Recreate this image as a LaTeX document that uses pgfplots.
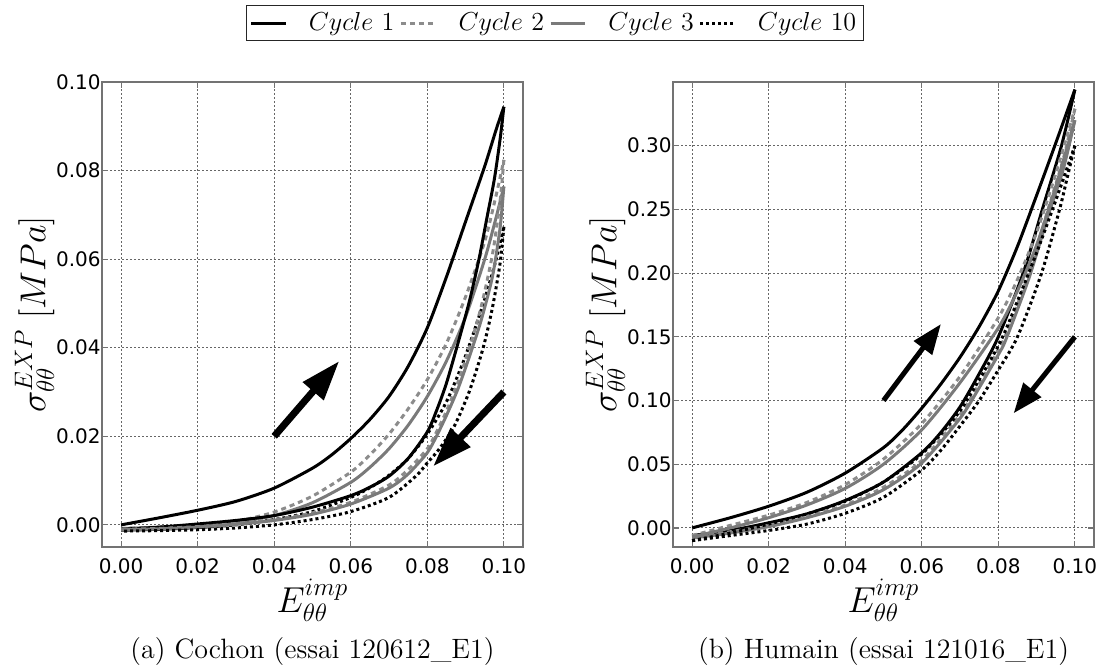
\RequirePackage{fix-cm}
\documentclass[border=0pt]{standalone}
\usepackage{fontspec}
\usepackage{pgfplots}
\pgfplotsset{compat=1.18}
\usetikzlibrary{arrows.meta}
\newfontfamily\dejavu{DejaVu Sans}

\pgfplotsset{
  cyc1/.style={black, line width=1.5pt, smooth, tension=0.45},
  cyc2/.style={black!45, line width=1.5pt, dash pattern=on 2.5pt off 2pt, smooth, tension=0.45},
  cyc3/.style={black!52, line width=1.5pt, smooth, tension=0.45},
  cyc10/.style={black, line width=1.5pt, dash pattern=on 1.5pt off 1.5pt, smooth, tension=0.45},
  myaxis/.style={
    width=210.5pt, height=232.5pt, scale only axis,
    xmin=-0.005, xmax=0.105,
    xtick={0,0.02,0.04,0.06,0.08,0.1},
    grid=major,
    major grid style={black!60, line width=0.5pt, dash pattern=on 1pt off 1pt},
    axis line style={black!55, line width=1pt},
    tick style={black!55, line width=0.6pt},
    tick align=inside, major tick length=3pt,
    ticklabel style={font=\dejavu\fontsize{10}{12}\selectfont},
    yticklabel style={inner xsep=0.5pt},
    xticklabel style={inner ysep=5.5pt},
    label style={font=\fontsize{18}{21}\selectfont},
    xlabel={$E_{\theta\theta}^{imp}$},
    ylabel={$\sigma_{\theta\theta}^{EXP}\ [MPa]$},
    xlabel style={at={(axis description cs:0.5,-0.114)}, anchor=center},
    ylabel style={at={(axis description cs:-0.16,0.5)}, anchor=center},
    /pgf/number format/fixed,
    /pgf/number format/fixed zerofill,
    /pgf/number format/precision=2,
    /pgf/number format/assume math mode=true,
  },
}

\begin{document}
\begin{tikzpicture}
\useasboundingbox (0,0) rectangle (553pt,-334pt);

% ---------------- Left: Cochon ----------------
\begin{axis}[myaxis,
  at={(51pt,-41pt)}, anchor=north west,
  ymin=-0.005, ymax=0.1,
  ytick={0,0.02,0.04,0.06,0.08,0.1},
  legend columns=4,
  legend style={at={(axis description cs:1.076,1.1656)}, anchor=north,
    draw=black!85, line width=0.6pt, fill=white,
    font=\fontsize{13}{15}\selectfont, inner sep=1.5pt,
    /tikz/every odd column/.append style={column sep=9pt},
    /tikz/every even column/.append style={column sep=0.5pt}},
]
% Cycle 1
\addplot[cyc1] coordinates {
(0,0) (0.01,0.0016) (0.02,0.0033) (0.03,0.0053) (0.04,0.0083) (0.05,0.0128)
(0.055,0.0158) (0.06,0.0195) (0.065,0.0238) (0.07,0.0290) (0.075,0.0358)
(0.08,0.0445) (0.085,0.0560) (0.09,0.0685) (0.095,0.0810) (0.098,0.0893)
(0.1,0.0944)
};
\addlegendentry{$Cycle\ 1$}
\addplot[cyc2] coordinates {
(0,-0.0008) (0.01,-0.0005) (0.02,0.0000) (0.03,0.0008) (0.04,0.0029)
(0.05,0.0065) (0.06,0.0119) (0.065,0.0158) (0.07,0.0205) (0.075,0.0262)
(0.08,0.0328) (0.085,0.0410) (0.09,0.0515) (0.095,0.0640) (0.098,0.0745)
(0.1,0.0824)
};
\addlegendentry{$Cycle\ 2$}
\addplot[cyc3] coordinates {
(0,-0.0008) (0.01,-0.0006) (0.02,-0.0002) (0.03,0.0006) (0.04,0.0021)
(0.05,0.0050) (0.06,0.0096) (0.065,0.0130) (0.07,0.0172) (0.075,0.0225)
(0.08,0.0290) (0.085,0.0370) (0.09,0.0470) (0.095,0.0600) (0.098,0.0695)
(0.1,0.0764)
};
\addlegendentry{$Cycle\ 3$}
\addplot[cyc10] coordinates {
(0,-0.0012) (0.01,-0.0010) (0.02,-0.0006) (0.03,0.0000) (0.04,0.0012)
(0.05,0.0030) (0.06,0.0062) (0.065,0.0084) (0.07,0.0112) (0.075,0.0150)
(0.08,0.0205) (0.085,0.0278) (0.09,0.0382) (0.095,0.0510) (0.098,0.0600)
(0.1,0.0673)
};
\addlegendentry{$Cycle\ 10$}
% unloading branches
\addplot[cyc1, forget plot] coordinates {
(0.1,0.0944) (0.099,0.0870) (0.0975,0.0780) (0.0955,0.0690) (0.0935,0.0600)
(0.091,0.0505) (0.088,0.0410) (0.085,0.0320) (0.0825,0.0260) (0.08,0.0210)
(0.075,0.0150) (0.07,0.0110) (0.065,0.0085) (0.06,0.0066) (0.05,0.0040)
(0.04,0.0021) (0.03,0.0010) (0.02,0.0002) (0.01,-0.0005) (0,-0.0010)
};
\addplot[cyc2, forget plot] coordinates {
(0.1,0.0824) (0.099,0.0730) (0.097,0.0610) (0.094,0.0490) (0.091,0.0400)
(0.088,0.0322) (0.085,0.0257) (0.082,0.0203) (0.08,0.0172) (0.075,0.0125)
(0.07,0.0090) (0.06,0.0051) (0.05,0.0027) (0.04,0.0012) (0.03,0.0003)
(0.02,-0.0004) (0.01,-0.0008) (0,-0.0010)
};
\addplot[cyc3, forget plot] coordinates {
(0.1,0.0764) (0.099,0.0670) (0.097,0.0560) (0.094,0.0460) (0.091,0.0380)
(0.088,0.0307) (0.085,0.0247) (0.0825,0.0202) (0.08,0.0163) (0.075,0.0115)
(0.07,0.0083) (0.06,0.0047) (0.05,0.0024) (0.04,0.0010) (0.03,0.0001)
(0.02,-0.0005) (0.01,-0.0009) (0,-0.0011)
};
\addplot[cyc10, forget plot] coordinates {
(0.1,0.0673) (0.099,0.0590) (0.097,0.0490) (0.0946,0.0400) (0.091,0.0302)
(0.087,0.0222) (0.083,0.0170) (0.08,0.0140) (0.077,0.0110) (0.07,0.0062)
(0.06,0.0030) (0.05,0.0012) (0.04,0.0000) (0.03,-0.0007) (0.02,-0.0011)
(0.01,-0.0013) (0,-0.0014)
};
\draw[line width=3.5pt, -{Triangle[length=20pt,width=13pt]}]
  (axis cs:0.04,0.02) -- (axis cs:0.057,0.037);
\draw[line width=3.5pt, -{Triangle[length=20pt,width=13pt]}]
  (axis cs:0.1,0.03) -- (axis cs:0.0815,0.0132);
\end{axis}

% ---------------- Right: Humain ----------------
\begin{axis}[myaxis,
  at={(336.5pt,-41pt)}, anchor=north west,
  ymin=-0.015, ymax=0.35,
  ytick={0,0.05,0.1,0.15,0.2,0.25,0.3},
]
\addplot[cyc1] coordinates {
(0,0) (0.01,0.008) (0.02,0.017) (0.03,0.028) (0.04,0.043) (0.05,0.063)
(0.055,0.077) (0.06,0.094) (0.065,0.113) (0.07,0.134) (0.075,0.158)
(0.08,0.186) (0.085,0.221) (0.09,0.261) (0.095,0.302) (0.1,0.344)
};
\addplot[cyc1] coordinates {
(0.1,0.344) (0.0965,0.300) (0.0915,0.250) (0.0865,0.200) (0.08,0.150)
(0.075,0.121) (0.07,0.095) (0.065,0.075) (0.06,0.059) (0.05,0.036)
(0.04,0.0215) (0.03,0.011) (0.02,0.004) (0.01,-0.002) (0,-0.006)
};
\addplot[cyc2] coordinates {
(0,-0.006) (0.01,0.002) (0.02,0.010) (0.03,0.020) (0.04,0.034) (0.05,0.054)
(0.06,0.082) (0.07,0.119) (0.08,0.165) (0.085,0.195) (0.09,0.232)
(0.095,0.278) (0.1,0.329)
};
\addplot[cyc2] coordinates {
(0.1,0.329) (0.097,0.290) (0.093,0.250) (0.088,0.200) (0.082,0.152)
(0.08,0.140) (0.075,0.113) (0.07,0.089) (0.06,0.053) (0.05,0.032)
(0.04,0.018) (0.03,0.009) (0.02,0.002) (0.01,-0.003) (0,-0.007)
};
\addplot[cyc3] coordinates {
(0,-0.007) (0.01,0.000) (0.02,0.008) (0.03,0.018) (0.04,0.031) (0.05,0.050)
(0.06,0.077) (0.07,0.114) (0.08,0.157) (0.085,0.186) (0.09,0.222)
(0.095,0.268) (0.1,0.320)
};
\addplot[cyc3] coordinates {
(0.1,0.320) (0.097,0.282) (0.093,0.245) (0.088,0.196) (0.082,0.148)
(0.08,0.136) (0.075,0.110) (0.07,0.086) (0.06,0.051) (0.05,0.030)
(0.04,0.017) (0.03,0.008) (0.02,0.001) (0.01,-0.004) (0,-0.008)
};
\addplot[cyc10] coordinates {
(0,-0.010) (0.01,-0.004) (0.02,0.003) (0.03,0.011) (0.04,0.021) (0.05,0.036)
(0.06,0.058) (0.07,0.092) (0.08,0.143) (0.085,0.178) (0.09,0.216)
(0.095,0.257) (0.1,0.300)
};
\addplot[cyc10] coordinates {
(0.1,0.300) (0.098,0.275) (0.096,0.250) (0.0913,0.200) (0.085,0.150)
(0.08,0.124) (0.075,0.100) (0.07,0.080) (0.065,0.061) (0.06,0.0455)
(0.05,0.024) (0.04,0.0115) (0.03,0.003) (0.02,-0.002) (0.01,-0.006)
(0,-0.010)
};
\draw[line width=2.5pt, -{Triangle[length=15pt,width=11pt]}]
  (axis cs:0.05,0.10) -- (axis cs:0.065,0.16);
\draw[line width=2.5pt, -{Triangle[length=15pt,width=11pt]}]
  (axis cs:0.1,0.15) -- (axis cs:0.084,0.09);
\end{axis}

\node[font=\fontsize{14}{17}\selectfont] at (156.25pt,-326pt) {(a) Cochon (essai 120612\_E1)};
\node[font=\fontsize{14}{17}\selectfont] at (441.75pt,-326pt) {(b) Humain (essai 121016\_E1)};
\end{tikzpicture}
\end{document}
